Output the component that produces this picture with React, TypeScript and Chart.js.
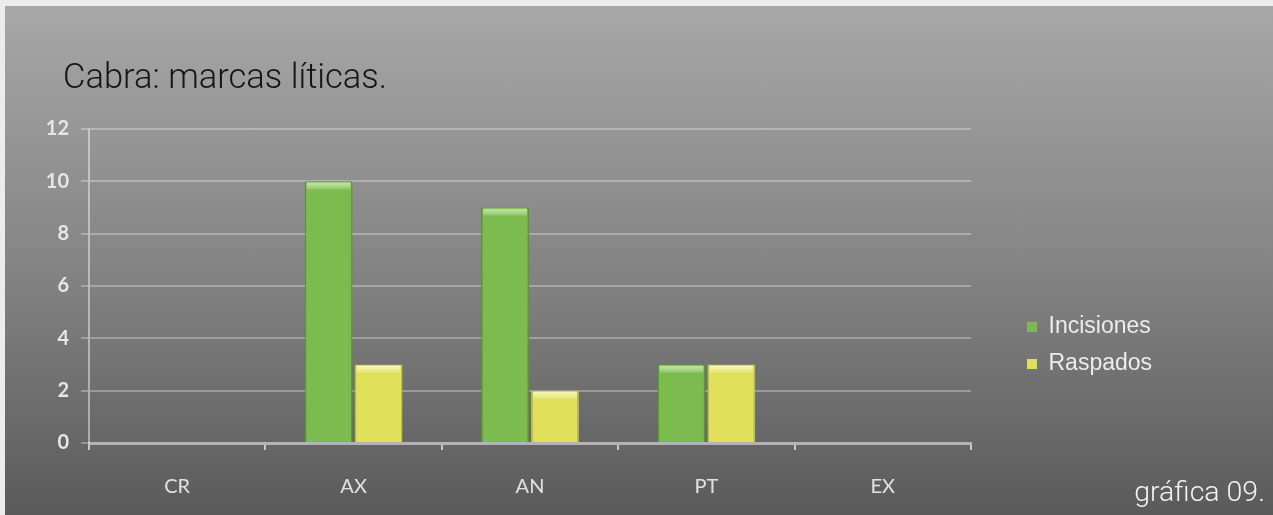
import React, { useEffect, useRef } from "react";
import { Chart, registerables } from "chart.js";

Chart.register(...registerables);

const TITLE = "Cabra: marcas líticas.";
const FOOTER = "gráfica 09.";
const CATEGORIES = ["CR", "AX", "AN", "PT", "EX"];
const SERIES_NAMES = ["Incisiones", "Raspados"];
const INCISIONES = [0, 10, 9, 3, 0];
const RASPADOS = [0, 3, 2, 3, 0];
const Y_TICKS = [0, 2, 4, 6, 8, 10, 12];

const FILLS = ["#7cbb4e", "#e0e05a"];
const BORDERS = ["#57992f", "#c0c040"];
const HIGHLIGHTS = ["rgba(190,230,150,0.95)", "rgba(250,250,175,0.95)"];

const TICK_FONT = "Lato, 'Open Sans', 'Liberation Sans', sans-serif";
const LEGEND_FONT = "'Liberation Sans', Arial, sans-serif";
const TEXT_FONT = "Roboto, 'Liberation Sans', sans-serif";

export default function App() {
  const ref = useRef<HTMLCanvasElement>(null);

  useEffect(() => {
    document.body.style.margin = "0";
    const canvas = ref.current;
    if (!canvas) return;

    const overlay = {
      id: "overlay",
      afterLayout(chart: any) {
        const lg = chart.legend;
        if (lg) {
          const w = lg.width;
          const h = 200;
          lg.left = 1013;
          lg.right = 1013 + w;
          lg.top = 301.5;
          lg.bottom = 301.5 + h;
          lg.height = h;
        }
      },
      afterDatasetsDraw(chart: any) {
        const ctx = chart.ctx;
        chart.data.datasets.forEach((ds: any, di: number) => {
          const meta = chart.getDatasetMeta(di);
          meta.data.forEach((el: any, i: number) => {
            const v = ds.data[i];
            if (!v) return;
            const p = el.getProps(["x", "y", "width"], true);
            const left = p.x - p.width / 2 + 2;
            const w = p.width - 4;
            const g = ctx.createLinearGradient(0, p.y + 1, 0, p.y + 9);
            g.addColorStop(0, HIGHLIGHTS[di]);
            g.addColorStop(1, "rgba(255,255,255,0)");
            ctx.save();
            ctx.fillStyle = g;
            ctx.fillRect(left, p.y + 1, w, 8);
            ctx.restore();
          });
        });
      },
      afterDraw(chart: any) {
        const ctx = chart.ctx;
        ctx.save();
        ctx.textBaseline = "alphabetic";
        ctx.textAlign = "left";
        ctx.fillStyle = "#151515";
        ctx.font = "300 34.5px " + TEXT_FONT;
        ctx.fillText(TITLE, 63, 88);
        ctx.textAlign = "right";
        ctx.fillStyle = "#f4f4f4";
        ctx.font = "300 28.5px " + TEXT_FONT;
        ctx.fillText(FOOTER, 1265, 501);
        ctx.restore();
      },
    };

    const chart = new Chart(canvas, {
      type: "bar",
      data: {
        labels: CATEGORIES,
        datasets: [
          {
            label: SERIES_NAMES[0],
            data: INCISIONES,
            backgroundColor: FILLS[0],
            borderColor: BORDERS[0],
            borderWidth: (c: any) => (c.raw ? 1.5 : 0),
            categoryPercentage: 0.566,
            barPercentage: 0.96,
          },
          {
            label: SERIES_NAMES[1],
            data: RASPADOS,
            backgroundColor: FILLS[1],
            borderColor: BORDERS[1],
            borderWidth: (c: any) => (c.raw ? 1.5 : 0),
            categoryPercentage: 0.566,
            barPercentage: 0.96,
          },
        ],
      },
      options: {
        responsive: false,
        animation: false,
        layout: { padding: { left: 0, right: 302, top: 129, bottom: 0 } },
        plugins: {
          legend: {
            position: "chartArea",
            align: "start",
            labels: {
              boxWidth: 10,
              boxHeight: 10,
              padding: 14,
              color: "#ececec",
              font: { family: LEGEND_FONT, size: 23 },
            },
          },
          tooltip: { enabled: false },
          title: { display: false },
        },
        scales: {
          x: {
            offset: true,
            grid: {
              display: true,
              drawOnChartArea: false,
              drawTicks: true,
              tickLength: 7,
              color: "rgba(225,225,225,0.8)",
              lineWidth: 2,
              offset: true,
            },
            border: { display: true, color: "#b3b3b3", width: 3 },
            ticks: {
              color: "#e2e2e2",
              font: { family: TICK_FONT, size: 20 },
              padding: 25,
            },
            afterFit: (s: any) => {
              s.height = 72;
            },
          },
          y: {
            min: 0,
            max: 12,
            afterBuildTicks: (s: any) => {
              s.ticks = Y_TICKS.map((v) => ({ value: v }));
            },
            ticks: {
              color: "#e6e6e6",
              font: { family: TICK_FONT, size: 20, weight: "bold" },
              padding: 12,
            },
            grid: {
              color: "rgba(255,255,255,0.3)",
              lineWidth: 2,
              tickLength: 8,
            },
            border: { display: true, color: "rgba(255,255,255,0.45)", width: 2 },
            afterFit: (s: any) => {
              s.width = 89;
            },
          },
        },
      },
      plugins: [overlay],
    } as any);

    return () => chart.destroy();
  }, []);

  return (
    <div style={{ position: "relative", width: 1273, height: 515, background: "#ececec", overflow: "hidden" }}>
      <div
        style={{
          position: "absolute",
          left: 5,
          top: 6,
          right: 0,
          bottom: 0,
          background: "linear-gradient(to bottom, #a7a7a7 0%, #858585 50%, #5a5a5a 100%)",
        }}
      />
      <canvas ref={ref} width={1273} height={515} style={{ position: "absolute", left: 0, top: 0 }} />
    </div>
  );
}
